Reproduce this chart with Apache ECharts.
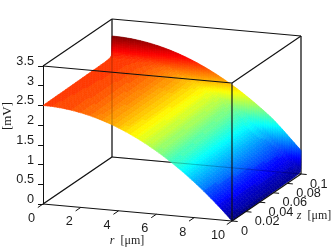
<!DOCTYPE html>
<html><head><meta charset="utf-8">
<style>html,body{margin:0;padding:0;background:#fff}#c{width:332px;height:249px}</style>
<script src="https://cdn.jsdelivr.net/npm/echarts@6/dist/echarts.min.js"></script>
</head><body><div id="c"></div>
<script>
const rGrid=[0,0.5,1,1.5,2,2.5,3,3.5,4,4.5,5,5.5,6,6.5,7,7.5,8,8.5,9,9.5,10];
const zGrid=[0,0.05,0.09,0.097,0.099,0.0995,0.1];
const vZ0=[2.50,2.494,2.475,2.444,2.40,2.344,2.275,2.194,2.10,1.994,1.875,1.744,1.60,1.444,1.275,1.094,0.90,0.694,0.475,0.244,0];
const vZ1=[2.515,2.509,2.49,2.459,2.415,2.359,2.29,2.209,2.115,2.009,1.89,1.759,1.615,1.459,1.29,1.109,0.915,0.709,0.49,0.259,0.015];
const vZ2=[2.53,2.524,2.505,2.474,2.43,2.374,2.305,2.224,2.13,2.024,1.905,1.774,1.63,1.474,1.305,1.124,0.93,0.724,0.505,0.274,0.03];
const vZ3=[2.545,2.539,2.52,2.489,2.445,2.389,2.32,2.239,2.145,2.039,1.92,1.789,1.645,1.489,1.32,1.139,0.945,0.739,0.52,0.289,0.045];
const vZ4=[2.58,2.574,2.555,2.524,2.48,2.424,2.355,2.274,2.18,2.074,1.955,1.824,1.68,1.524,1.355,1.174,0.98,0.774,0.555,0.324,0.08];
const vZ5=[2.65,2.644,2.625,2.594,2.55,2.494,2.425,2.344,2.25,2.144,2.025,1.894,1.75,1.594,1.425,1.244,1.05,0.844,0.625,0.394,0.15];
const vZ6=[3.07,3.064,3.046,3.016,2.974,2.92,2.854,2.776,2.686,2.584,2.47,2.344,2.206,2.056,1.894,1.72,1.534,1.336,1.10,0.85,0.60];
const vTable=[vZ0,vZ1,vZ2,vZ3,vZ4,vZ5,vZ6];
const vTicks=[0,0.5,1,1.5,2,2.5,3,3.5];
const rTicks=[0,2,4,6,8,10];
const zTicks=[0,0.02,0.04,0.06,0.08,0.1];
const rMax=10,zMax=0.1,vMax=3.5,colorMax=3.07;

const dxZ=69/18.9, dyR=(17/138*3.5), dyZ=(47/138*3.5);
function proj(api,r,z,v){return api.coord([r+z/zMax*dxZ, v-r/rMax*dyR+z/zMax*dyZ]);}
function jet(v){
  const q=Math.min(63,Math.max(0,Math.floor(v/colorMax*64)));const t=(q+.5)/64;
  const c=x=>Math.round(255*Math.max(0,Math.min(1,x)));
  return 'rgb('+c(Math.min(4*t-1.5,-4*t+4.5))+','+c(Math.min(4*t-.5,-4*t+3.5))+','+c(Math.min(4*t+.5,-4*t+2.5))+')';
}
const rowSub=[14,12,3,2,2,24];
const cells=[];
for(let j=zGrid.length-2;j>=0;j--)for(let i=0;i<rGrid.length-1;i++)cells.push([i,j]);
function surface(p,api){
  const i=api.value(0),j=api.value(1),ch=[];
  const R0=rGrid[i],R1=rGrid[i+1],Z0=zGrid[j],Z1=zGrid[j+1];
  const a=vTable[j][i],b=vTable[j][i+1],c=vTable[j+1][i],d=vTable[j+1][i+1];
  const sr=4,sz=rowSub[j];
  const V=(u,w)=>a*(1-u)*(1-w)+b*u*(1-w)+c*(1-u)*w+d*u*w;
  const P=(u,w)=>proj(api,R0+(R1-R0)*u,Z0+(Z1-Z0)*w,V(u,w));
  for(let m=sz-1;m>=0;m--)for(let n=0;n<sr;n++){
    const u0=n/sr,u1=(n+1)/sr,w0=m/sz,w1=(m+1)/sz;
    const col=jet(V((u0+u1)/2,(w0+w1)/2));
    ch.push({type:'polygon',shape:{points:[P(u0,w0),P(u1,w0),P(u1,w1),P(u0,w1)]},style:{fill:col,stroke:col,lineWidth:.6}});
  }
  return {type:'group',children:ch};
}
const E=(a,b)=>[a,b];
const back=[
 E([0,zMax,0],[0,zMax,vMax]),E([rMax,zMax,0],[rMax,zMax,vMax]),
 E([0,0,0],[0,zMax,0]),E([0,zMax,0],[rMax,zMax,0])];
const front=[
 E([0,0,0],[rMax,0,0]),E([rMax,0,0],[rMax,zMax,0]),E([rMax,0,0],[rMax,0,vMax]),
 E([0,0,vMax],[rMax,0,vMax]),E([rMax,0,vMax],[rMax,zMax,vMax]),E([rMax,zMax,vMax],[0,zMax,vMax]),E([0,zMax,vMax],[0,0,vMax])];
function edgeSeries(list,z,op){
  return {type:'custom',coordinateSystem:'cartesian2d',clip:false,silent:true,z:z,animation:false,
    data:list.map((e,k)=>[k,0]),
    renderItem(p,api){const e=list[api.value(0)];const A=proj(api,...e[0]),B=proj(api,...e[1]);
      return {type:'line',shape:{x1:A[0],y1:A[1],x2:B[0],y2:B[1]},style:{stroke:'#111',lineWidth:1.15,opacity:op}};}};
}
const FONT='12.7px "Liberation Sans"',TXT='#1c1c1c';
function tickSeries(){
  const items=[...rTicks.map(v=>['r',v]),...zTicks.map(v=>['z',v])];
  return {type:'custom',coordinateSystem:'cartesian2d',clip:false,silent:true,z:6,animation:false,
    data:items.map((e,k)=>[k,0]),
    renderItem(p,api){
      const e=items[api.value(0)];const isR=e[0]==='r';
      const A=isR?proj(api,e[1],0,0):proj(api,rMax,e[1],0);
      const T=isR?proj(api,e[1],-0.0075,0):proj(api,rMax+0.3,e[1],0);
      return {type:'group',children:[
        {type:'line',shape:{x1:A[0],y1:A[1],x2:T[0],y2:T[1]},style:{stroke:'#111',lineWidth:1}},
        {type:'text',style:{text:String(e[1]),x:A[0]+(isR?(e[1]===10?-14:-11.5):9),y:A[1]+(isR?14.5:10),
          fill:TXT,font:FONT,align:isR?'center':'left',verticalAlign:'middle'}}]};
    }};
}
const titles=[['r',127,241,0],['z',314,216,0]];
function titleSeries(){
  const mk=(t)=>({type:'text',style:{text:'{i|'+t[0]+'}  [μm]',x:t[1],y:t[2],align:'center',verticalAlign:'middle',fill:TXT,
    font:'12px "Liberation Serif"',rich:{i:{font:'italic 12px "Liberation Serif"',fill:TXT}}}});
  return {type:'custom',coordinateSystem:'cartesian2d',clip:false,silent:true,z:6,animation:false,
    data:[[0,0],[1,0],[2,0]],
    renderItem(p,api){const k=api.value(0);
      if(k<2)return mk(titles[k]);
      return {type:'text',x:8,y:116,rotation:Math.PI/2,style:{text:'[mV]',x:0,y:0,align:'center',verticalAlign:'middle',fill:TXT,font:'13px "Liberation Serif"'}};}};
}
const chart=echarts.init(document.getElementById('c'),null,{renderer:'canvas'});
chart.setOption({
  animation:false,backgroundColor:'#fff',
  grid:{left:43,top:66,width:189,height:138,containLabel:false},
  xAxis:{type:'value',min:0,max:rMax,show:false},
  yAxis:{type:'value',min:0,max:vMax,interval:0.5,
    axisLine:{show:true,lineStyle:{color:'#111',width:1}},
    axisTick:{show:true,length:5,lineStyle:{color:'#111',width:1}},
    splitLine:{show:false},
    axisLabel:{show:true,margin:9,color:TXT,fontFamily:'Liberation Sans',fontSize:12.7,verticalAlign:'bottom',lineHeight:9,
      customValues:vTicks,formatter:v=>String(v),showMinLabel:true,showMaxLabel:true}},
  series:[
    edgeSeries(back,1,1),
    {type:'custom',coordinateSystem:'cartesian2d',clip:false,silent:true,z:2,animation:false,progressive:0,
      data:cells,renderItem:surface},
    edgeSeries(back,3,0.22),
    edgeSeries(front,4,1),
    tickSeries(),titleSeries()]
});
</script></body></html>
